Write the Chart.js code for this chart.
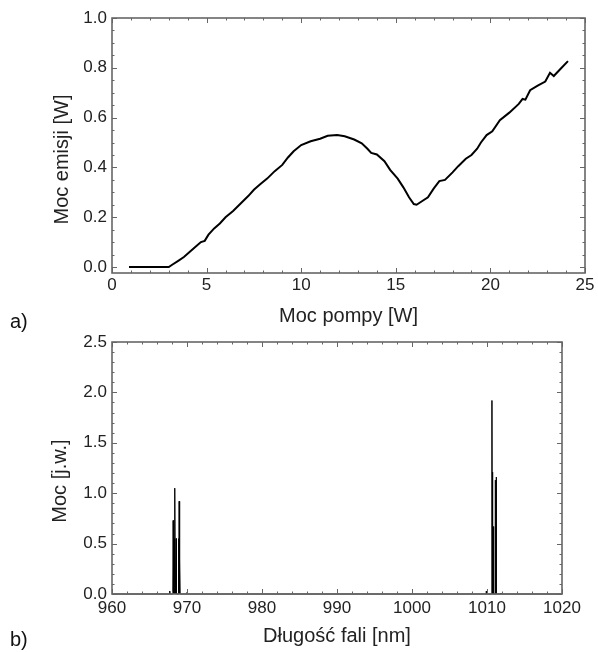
<!DOCTYPE html>
<html lang="pl">
<head>
<meta charset="utf-8">
<title>Moc emisji i widmo</title>
<script src="https://cdn.jsdelivr.net/npm/chart.js@4.4.0/dist/chart.umd.min.js"></script>
<style>
  body { margin: 0; background: #fff; }
  #wrap { position: relative; width: 598px; height: 652px; font-family: 'Liberation Sans', Arial, sans-serif; }
  canvas { position: absolute; left: 0; }
  #chartA { top: 0; }
  #chartB { top: 330px; }
  .panel-label { position: absolute; left: 10px; font-size: 20px; color: #111; }
</style>
</head>
<body>
<div id="wrap">
  <canvas id="chartA" width="598" height="330"></canvas>
  <canvas id="chartB" width="598" height="322"></canvas>
  <div class="panel-label" style="top:310px">a)</div>
  <div class="panel-label" style="top:628px">b)</div>
</div>
<script>
// a) moc emisji w funkcji mocy pompy
const pumpPower = [0.9, 2.0, 3.0, 3.2, 3.5, 3.8, 4.1, 4.4, 4.7, 4.9, 5.1, 5.4, 5.7, 6.0, 6.4, 6.8,
  7.2, 7.5, 7.8, 8.2, 8.6, 9.0, 9.3, 9.6, 10.0, 10.5, 11.0, 11.4, 11.9, 12.3, 12.8, 13.2,
  13.5, 13.7, 14.0, 14.4, 14.7, 15.1, 15.4, 15.7, 15.95, 16.1, 16.4, 16.7, 17.0, 17.3, 17.6,
  18.0, 18.3, 18.7, 19.0, 19.3, 19.5, 19.8, 20.1, 20.5, 21.0, 21.5, 21.7, 21.85, 22.1, 22.5,
  22.9, 23.15, 23.35, 23.7, 24.1];
const emissionPower = [0.0, 0.0, 0.0, 0.01, 0.025, 0.04, 0.06, 0.08, 0.10, 0.105, 0.13, 0.155, 0.175, 0.20, 0.225, 0.255,
  0.285, 0.31, 0.33, 0.355, 0.385, 0.41, 0.44, 0.465, 0.49, 0.505, 0.515, 0.527, 0.530, 0.525, 0.512, 0.497,
  0.475, 0.458, 0.452, 0.425, 0.39, 0.355, 0.32, 0.28, 0.253, 0.250, 0.265, 0.28, 0.315, 0.345, 0.35,
  0.38, 0.405, 0.435, 0.45, 0.475, 0.50, 0.53, 0.545, 0.59, 0.62, 0.655, 0.675, 0.672, 0.71, 0.728,
  0.745, 0.78, 0.767, 0.795, 0.827];
const xTicksA = [0, 5, 10, 15, 20, 25];
const yTicksA = [0, 0.2, 0.4, 0.6, 0.8, 1.0];

// b) widmo - linie ok. 968 nm i 1010 nm
const wavelength = [960, 966.0, 966.02, 966.04, 967.6, 967.7, 967.75,
  968.1, 968.15, 968.2, 968.25, 968.3, 968.33, 968.37, 968.4, 968.45, 968.5, 968.55, 968.6,
  968.85, 968.88, 968.9, 968.93, 968.95, 968.98, 969.02, 969.05, 969.08, 970.0, 970.02, 970.04,
  1008.0, 1008.02, 1008.04, 1009.88, 1009.9, 1009.92,
  1010.62, 1010.66, 1010.7, 1010.72, 1010.75, 1010.78, 1010.84, 1010.87, 1010.9,
  1011.07, 1011.1, 1011.13, 1011.2, 1011.23, 1011.26, 1011.86, 1011.88, 1011.9, 1020];
const spectrumPower = [0, 0, 0.01, 0, 0, 0.03, 0,
  0, 0.73, 0, 0, 0.55, 0, 0, 1.05, 0, 0, 0.55, 0,
  0, 0.55, 0, 0, 0.92, 0, 0, 0.35, 0, 0, 0.02, 0,
  0, 0.01, 0, 0, 0.03, 0,
  0, 1.92, 0, 0, 1.21, 0, 0, 0.67, 0,
  0, 1.13, 0, 0, 1.16, 0, 0, 0.01, 0, 0];
const xTicksB = [960, 970, 980, 990, 1000, 1010, 1020];
const yTicksB = [0, 0.5, 1.0, 1.5, 2.0, 2.5];

const tickFont = { family: "'Liberation Sans', Arial, sans-serif", size: 17 };
const titleFont = { family: "'Liberation Sans', Arial, sans-serif", size: 20 };
const textColor = '#222';

// ramka + znaczniki do wewnątrz na wszystkich 4 bokach (styl Mathematica)
const frameTicks = {
    id: 'frameTicks',
    afterLayout(chart, args, opts) {
        // tytuł osi Y jest w oryginale trochę poniżej środka wykresu
        const y = chart.scales.y;
        y.top += opts.titleShift;
        y.bottom += opts.titleShift;
    },
    afterDraw(chart, args, opts) {
        const { ctx, chartArea: a, scales: { x, y } } = chart;
        ctx.save();
        ctx.strokeStyle = '#666';
        ctx.lineWidth = 1;
        ctx.beginPath();
        const xMin = x.min, xMax = x.max;
        for (let i = 0; xMin + i * opts.xMinor <= xMax + 1e-9; i++) {
            const v = xMin + i * opts.xMinor;
            const major = Math.abs(v / opts.xMajor - Math.round(v / opts.xMajor)) < 1e-6;
            const len = major ? 5 : 2.5;
            const px = Math.round(x.getPixelForValue(v)) + 0.5;
            ctx.moveTo(px, a.bottom); ctx.lineTo(px, a.bottom - len);
            ctx.moveTo(px, a.top); ctx.lineTo(px, a.top + len);
        }
        const yStart = Math.ceil(y.min / opts.yMinor - 1e-6) * opts.yMinor;
        for (let i = 0; yStart + i * opts.yMinor <= y.max + 1e-9; i++) {
            const v = yStart + i * opts.yMinor;
            const major = Math.abs(v / opts.yMajor - Math.round(v / opts.yMajor)) < 1e-6;
            const len = major ? 5 : 2.5;
            const py = Math.round(y.getPixelForValue(v)) + 0.5;
            ctx.moveTo(a.left, py); ctx.lineTo(a.left + len, py);
            ctx.moveTo(a.right, py); ctx.lineTo(a.right - len, py);
        }
        ctx.stroke();
        ctx.lineWidth = 1.6;
        ctx.strokeRect(a.left, a.top, a.right - a.left, a.bottom - a.top);
        ctx.restore();
    }
};

function axis(min, max, tickValues, digits, title, fit, tickPadding, titlePadding) {
    return {
        type: 'linear',
        min: min,
        max: max,
        afterFit: fit,
        afterBuildTicks: s => { s.ticks = tickValues.map(v => ({ value: v })); },
        grid: { display: false, drawTicks: false },
        border: { display: false },
        ticks: {
            autoSkip: false,
            maxRotation: 0,
            padding: tickPadding,
            font: tickFont,
            color: textColor,
            callback: v => Number(v).toFixed(digits)
        },
        title: { display: true, text: title, font: titleFont, color: textColor, padding: titlePadding }
    };
}

// wykres a)
new Chart(document.getElementById('chartA'), {
    type: 'line',
    data: {
        datasets: [{
            data: pumpPower.map((p, i) => ({ x: p, y: emissionPower[i] })),
            borderColor: '#000',
            borderWidth: 2,
            pointRadius: 0,
            tension: 0
        }]
    },
    options: {
        responsive: false,
        animation: false,
        layout: { padding: { top: 18, right: 13, left: 0, bottom: 0 } },
        plugins: {
            legend: { display: false },
            tooltip: { enabled: false },
            frameTicks: { xMajor: 5, xMinor: 1, yMajor: 0.2, yMinor: 0.05, titleShift: 14 }
        },
        scales: {
            x: axis(0, 25, xTicksA, 0, 'Moc pompy [W]',
                s => { s.height = 57; s.paddingLeft = 0; s.paddingRight = 0; }, 2, { top: 0, bottom: 2 }),
            y: axis(-0.024, 1.0, yTicksA, 1, 'Moc emisji [W]',
                s => { s.width = 112; s.paddingTop = 0; s.paddingBottom = 0; }, 5, { top: 50, bottom: 0 })
        }
    },
    plugins: [frameTicks]
});

// wykres b)
new Chart(document.getElementById('chartB'), {
    type: 'line',
    data: {
        datasets: [{
            data: wavelength.map((w, i) => ({ x: w, y: spectrumPower[i] })),
            borderColor: '#000',
            borderWidth: 1,
            pointRadius: 0,
            tension: 0
        }]
    },
    options: {
        responsive: false,
        animation: false,
        layout: { padding: { top: 12, right: 36, left: 0, bottom: 0 } },
        plugins: {
            legend: { display: false },
            tooltip: { enabled: false },
            frameTicks: { xMajor: 10, xMinor: 2, yMajor: 0.5, yMinor: 0.1, titleShift: 13 }
        },
        scales: {
            x: axis(960, 1020, xTicksB, 0, 'Długość fali [nm]',
                s => { s.height = 58; s.paddingLeft = 0; s.paddingRight = 0; }, 4, { top: 0, bottom: 4 }),
            y: axis(0, 2.5, yTicksB, 1, 'Moc [j.w.]',
                s => { s.width = 112; s.paddingTop = 0; s.paddingBottom = 0; }, 5, { top: 48, bottom: 0 })
        }
    },
    plugins: [frameTicks]
});
</script>
</body>
</html>
